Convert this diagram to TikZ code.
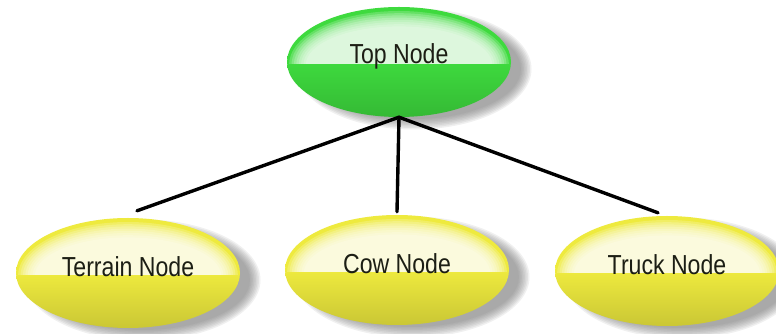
\documentclass[tikz,border=0pt]{standalone}
\usepackage{fontspec}
\setmainfont[FakeStretch=0.84]{Liberation Sans}
\usetikzlibrary{shapes.geometric,backgrounds,calc}

\definecolor{greenbase}{RGB}{62,218,62}
\definecolor{yellowbase}{RGB}{238,234,62}
\definecolor{labelink}{RGB}{28,30,20}
\definecolor{shadowgray}{RGB}{110,110,110}

\tikzset{
  blob/.style={ellipse, inner sep=0pt, minimum width=224pt, minimum height=110pt,
    font=\fontsize{27.5}{32}\selectfont, text=labelink},
  % base colour with a soft glossy highlight that stops at the middle line
  gloss/.style={blob,
    bottom color=#1!85!black, top color=#1, middle color=#1,
    path picture={
      \begin{scope}
        \clip ([yshift=-2pt]path picture bounding box.west) rectangle
              (path picture bounding box.north east);
        \foreach \k in {0,...,7}{
          \fill[white, opacity=0.2]
            ([yshift=-3pt]path picture bounding box.center)
            ellipse ({110pt-\k*2.4pt} and {54pt-\k*2.2pt});
        }
      \end{scope}
    }},
  link/.style={line width=3.4pt, black, line cap=round},
}
\newcommand{\lifted}[1]{\raisebox{6pt}[\height][\depth]{#1}}
\newcommand{\softshadow}[3]{% center, x radius, y radius
  \foreach \k in {0,...,7}{
    \fill[shadowgray, opacity=0.1]
      ($#1+(15pt,-7pt)$) ellipse ({#2-5pt+\k*1.5pt} and {#3-5pt+\k*1.5pt});
  }}

\begin{document}
\begin{tikzpicture}[x=1pt,y=1pt]
  \useasboundingbox (0,0) rectangle (776,334);

  \node[gloss=greenbase]  (top)     at (399,272) {\lifted{Top Node}};
  \node[gloss=yellowbase] (terrain) at (128,61)  {\lifted{Terrain Node}};
  \node[gloss=yellowbase] (cow)     at (397,64)  {\lifted{Cow Node}};
  \node[gloss=yellowbase] (truck)   at (667,63)  {\lifted{Truck Node}};

  \begin{scope}[on background layer]
    \fill[white] (0,0) rectangle (776,334);
    \softshadow{(top)}{112pt}{55pt}
    \softshadow{(terrain)}{112pt}{55pt}
    \softshadow{(cow)}{112pt}{55pt}
    \softshadow{(truck)}{112pt}{55pt}
  \end{scope}

  \draw[link] (top.south) -- ([xshift=9pt,yshift=7pt]terrain.north);
  \draw[link] (top.south) -- ([yshift=3pt]cow.north);
  \draw[link] (top.south) -- ([xshift=-9pt,yshift=3pt]truck.north);
\end{tikzpicture}
\end{document}
